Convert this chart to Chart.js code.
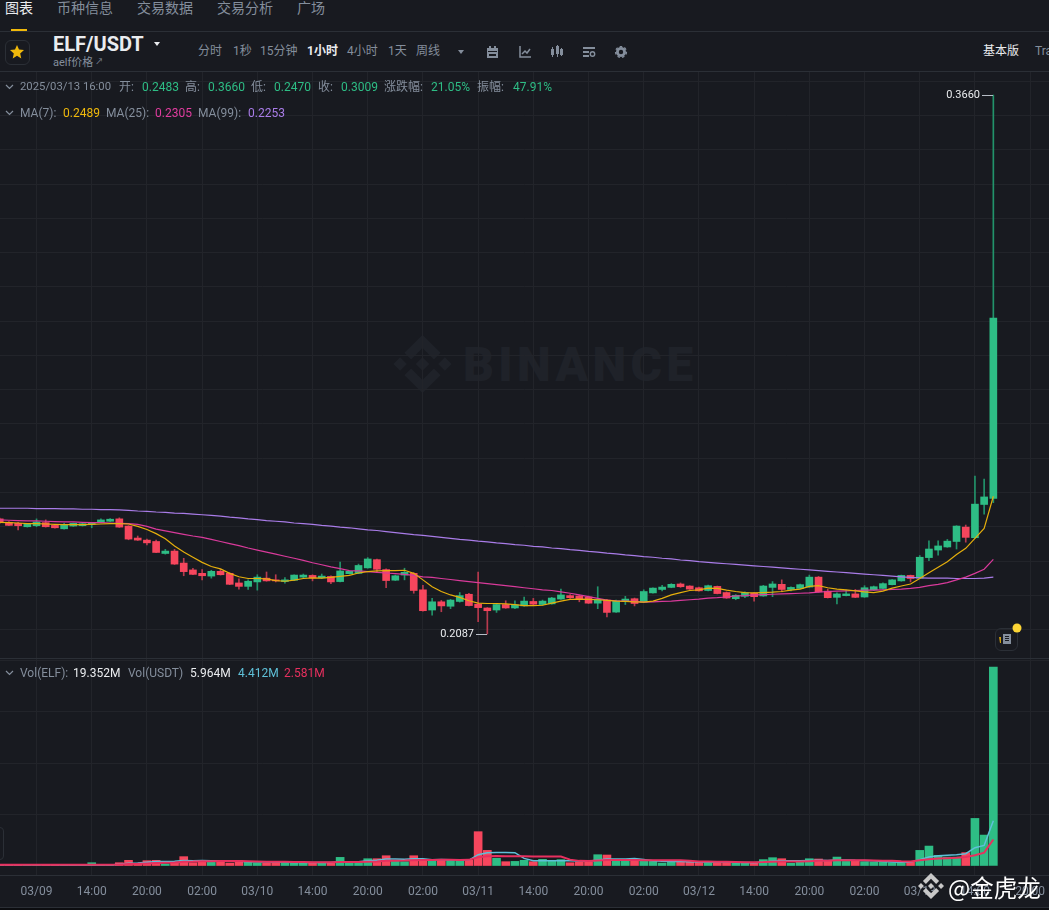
<!DOCTYPE html>
<html lang="zh">
<head>
<meta charset="utf-8">
<title>ELF/USDT</title>
<script src="https://cdn.jsdelivr.net/npm/chart.js@4/dist/chart.umd.min.js"></script>
<style>
    html, body { margin: 0; padding: 0; background: #181a20; }
    body { width: 1049px; height: 910px; position: relative; overflow: hidden; font-family: Roboto, "Noto Sans CJK SC", sans-serif; color: #848e9c; }
    .t { position: absolute; white-space: nowrap; line-height: 16px; font-size: 12px; }
    .tab { font-size: 14px; line-height: 16px; top: 0; }
    .hl { position: absolute; left: 0; width: 1049px; height: 1px; background: #2b2f36; }
    .green { color: #2ebd85; }
    svg { position: absolute; overflow: visible; }
    canvas { position: absolute; left: 0; }
</style>
</head>
<body>
<svg style="left:393px;top:335px" width="59" height="58" viewBox="0 0 126 126"><path fill="#1f2229" d="M38.2 53 63 28.2 87.8 53l14.4-14.4L63 0 23.8 38.6zM0 63l14.4-14.4L28.8 63 14.4 77.4zM38.2 73 63 97.8 87.8 73l14.4 14.4L63 126 23.8 87.4zM97.2 63l14.4-14.4L126 63l-14.4 14.4zM77.6 63 63 48.4 48.4 63 63 77.6z"/></svg>
<div class="t" style="left:463px;top:340px;font-size:48px;line-height:50px;font-weight:900;letter-spacing:4.3px;color:#1f2229">BINANCE</div>

<canvas id="price-chart" width="1049" height="586" style="top:72px"></canvas>
<canvas id="volume-chart" width="1049" height="248" style="top:659px"></canvas>

<div class="t tab" style="left:5px;color:#eaecef">图表</div>
<div class="t tab" style="left:57px">币种信息</div>
<div class="t tab" style="left:137px">交易数据</div>
<div class="t tab" style="left:217px">交易分析</div>
<div class="t tab" style="left:297px">广场</div>
<div style="position:absolute;left:11px;top:29px;width:16px;height:3px;background:#f0b90b"></div>
<div class="hl" style="top:31px"></div>
<div class="hl" style="top:71px"></div>
<div class="hl" style="top:658px"></div>
<div class="hl" style="top:875px"></div>
<div class="hl" style="top:907px"></div>
<div style="position:absolute;left:0;top:908px;width:1049px;height:2px;background:#0c0d10"></div>

<div style="position:absolute;left:5px;top:40px;width:23px;height:23px;border:1px solid #2b2f36;border-radius:6px"></div>
<svg style="left:10px;top:45px" width="14" height="14" viewBox="0 0 14 14"><path fill="#f0b90b" d="M7 0l2 4.6 5 .5-3.8 3.3 1.1 5L7 10.8 2.7 13.4l1.1-5L0 5.1l5-.5z"/></svg>
<div class="t" style="left:53px;top:33px;font-size:20px;line-height:22px;font-weight:700;color:#eaecef">ELF/USDT</div>
<svg style="left:154px;top:42px" width="6" height="4"><path fill="#eaecef" d="M0 0h6L3 4z"/></svg>
<div class="t" style="left:53px;top:54px;font-size:11px">aelf价格<span style="font-size:8px;vertical-align:2px"> ↗</span></div>
<div class="t" style="left:198px;top:43px">分时</div>
<div class="t" style="left:233px;top:43px">1秒</div>
<div class="t" style="left:260px;top:43px">15分钟</div>
<div class="t" style="left:307px;top:43px;color:#eaecef;font-weight:700">1小时</div>
<div class="t" style="left:347px;top:43px">4小时</div>
<div class="t" style="left:388px;top:43px">1天</div>
<div class="t" style="left:416px;top:43px">周线</div>
<svg style="left:458px;top:50px" width="6" height="4"><path fill="#848e9c" d="M0 0h6L3 4z"/></svg>
<svg style="left:487px;top:46px" width="11" height="12"><path fill="#848e9c" d="M2 0h2v2h3V0h2v2h2v10H0V2h2zM1 5v1h9V5zM2 8v2h7V8z"/></svg>
<svg style="left:519px;top:46px" width="12" height="12"><path fill="none" stroke="#848e9c" stroke-width="1.5" d="M1 0v11h11M3 8l3-3 2 2 3-4"/></svg>
<svg style="left:550px;top:45px" width="14" height="13"><path fill="#848e9c" d="M1 4h3v6H1zM2 2h1v10H2zM6 1h3v8H6zM7 0h1v12H7zM10 4h3v6h-3zM11 3h1v8h-1z"/></svg>
<svg style="left:583px;top:46px" width="12" height="12"><path fill="#848e9c" d="M0 1h12v2H0zM0 5h6v2H0zM0 9h6v2H0z"/><circle cx="9.5" cy="8" r="2.2" fill="none" stroke="#848e9c" stroke-width="1.4"/></svg>
<svg style="left:615px;top:46px" width="12" height="12"><circle cx="6" cy="6" r="3.6" fill="none" stroke="#848e9c" stroke-width="2.8"/><circle cx="6" cy="6" r="5.4" fill="none" stroke="#848e9c" stroke-width="1.4" stroke-dasharray="2.5 2.2"/></svg>
<div class="t" style="left:983px;top:43px;color:#eaecef">基本版</div>
<div class="t" style="left:1035px;top:43px">Tra</div>

<svg style="left:6px;top:85px" width="7" height="5"><path fill="none" stroke="#848e9c" stroke-width="1.2" d="M0 0l3.5 3.5L7 0"/></svg>
<div class="t" style="left:20px;top:79px;font-size:11.3px">2025/03/13 16:00</div>
<div class="t" style="left:119px;top:79px">开:</div><div class="t green" style="left:142px;top:79px">0.2483</div>
<div class="t" style="left:185px;top:79px">高:</div><div class="t green" style="left:208px;top:79px">0.3660</div>
<div class="t" style="left:251px;top:79px">低:</div><div class="t green" style="left:274px;top:79px">0.2470</div>
<div class="t" style="left:318px;top:79px">收:</div><div class="t green" style="left:341px;top:79px">0.3009</div>
<div class="t" style="left:384px;top:79px">涨跌幅:</div><div class="t green" style="left:431px;top:79px">21.05%</div>
<div class="t" style="left:477px;top:79px">振幅:</div><div class="t green" style="left:513px;top:79px">47.91%</div>

<svg style="left:6px;top:111px" width="7" height="5"><path fill="none" stroke="#848e9c" stroke-width="1.2" d="M0 0l3.5 3.5L7 0"/></svg>
<div class="t" style="left:20px;top:105px">MA(7):</div><div class="t" style="left:63px;top:105px;color:#f0b90b">0.2489</div>
<div class="t" style="left:106px;top:105px">MA(25):</div><div class="t" style="left:155px;top:105px;color:#e13c9f">0.2305</div>
<div class="t" style="left:198px;top:105px">MA(99):</div><div class="t" style="left:248px;top:105px;color:#a97ce8">0.2253</div>

<svg style="left:6px;top:671px" width="7" height="5"><path fill="none" stroke="#848e9c" stroke-width="1.2" d="M0 0l3.5 3.5L7 0"/></svg>
<div class="t" style="left:20px;top:665px">Vol(ELF):</div><div class="t" style="left:73px;top:665px;color:#eaecef">19.352M</div>
<div class="t" style="left:128px;top:665px">Vol(USDT)</div><div class="t" style="left:190px;top:665px;color:#eaecef">5.964M</div>
<div class="t" style="left:238px;top:665px;color:#5fc0d8">4.412M</div>
<div class="t" style="left:284px;top:665px;color:#e8305f">2.581M</div>

<div style="position:absolute;left:995px;top:628px;width:21px;height:21px;border:1px solid #2b2f36;border-radius:6px"></div>
<svg style="left:999px;top:633px" width="14" height="12"><path fill="#c99a10" d="M0 4h2v6H1z"/><path fill="#848e9c" d="M4 1h8v10H4z"/><path fill="#181a20" d="M6 3h4v1H6zM6 5h4v1H6zM6 7h4v1H6z"/></svg>
<svg style="left:1012px;top:623px" width="10" height="10"><circle cx="5" cy="5" r="4.5" fill="#fcd535"/></svg>
<div style="position:absolute;left:-6px;top:827px;width:8px;height:31px;border:1px solid #2b2f36;border-radius:4px"></div>

<svg style="left:918px;top:873px" width="26" height="26" viewBox="0 0 126 126"><path fill="#c8c8c8" d="M38.2 53 63 28.2 87.8 53l14.4-14.4L63 0 23.8 38.6zM0 63l14.4-14.4L28.8 63 14.4 77.4zM38.2 73 63 97.8 87.8 73l14.4 14.4L63 126 23.8 87.4zM97.2 63l14.4-14.4L126 63l-14.4 14.4zM77.6 63 63 48.4 48.4 63 63 77.6z"/></svg>
<div class="t" style="left:948px;top:873px;font-size:23.5px;line-height:28px;color:#ffffff;font-family:'Noto Sans CJK SC',sans-serif">@金虎龙</div>

<script>
// one value per hourly candle
const opens = [0.2423,0.2413,0.2410,0.2400,0.2403,0.2412,0.2404,0.2394,0.2402,0.2403,0.2407,0.2412,0.2416,0.2423,0.2402,0.2367,0.2361,0.2357,0.2322,0.2329,0.2294,0.2274,0.2264,0.2256,0.2270,0.2264,0.2236,0.2226,0.2239,0.2250,0.2245,0.2240,0.2244,0.2253,0.2258,0.2251,0.2255,0.2240,0.2263,0.2264,0.2280,0.2304,0.2275,0.2244,0.2259,0.2264,0.2216,0.2157,0.2181,0.2168,0.2182,0.2203,0.2174,0.2163,0.2157,0.2173,0.2163,0.2169,0.2182,0.2173,0.2175,0.2189,0.2199,0.2198,0.2195,0.2177,0.2186,0.2151,0.2183,0.2190,0.2180,0.2207,0.2217,0.2223,0.2233,0.2227,0.2222,0.2214,0.2226,0.2208,0.2190,0.2197,0.2206,0.2198,0.2223,0.2232,0.2217,0.2220,0.2224,0.2253,0.2212,0.2194,0.2199,0.2204,0.2195,0.2216,0.2220,0.2231,0.2242,0.2258,0.2250,0.2310,0.2332,0.2341,0.2357,0.2399,0.2368,0.2465,0.2483];
const highs = [0.2425,0.2415,0.2413,0.2408,0.2423,0.2420,0.2406,0.2410,0.2411,0.2410,0.2412,0.2423,0.2424,0.2426,0.2403,0.2373,0.2364,0.2361,0.2334,0.2334,0.2308,0.2279,0.2275,0.2273,0.2276,0.2266,0.2248,0.2245,0.2260,0.2268,0.2260,0.2252,0.2260,0.2262,0.2260,0.2262,0.2257,0.2297,0.2271,0.2291,0.2310,0.2306,0.2277,0.2259,0.2279,0.2266,0.2229,0.2191,0.2185,0.2188,0.2208,0.2206,0.2268,0.2164,0.2176,0.2184,0.2184,0.2195,0.2191,0.2186,0.2194,0.2218,0.2202,0.2200,0.2198,0.2225,0.2188,0.2186,0.2197,0.2192,0.2216,0.2222,0.2229,0.2234,0.2236,0.2228,0.2224,0.2230,0.2227,0.2210,0.2202,0.2210,0.2208,0.2229,0.2240,0.2245,0.2225,0.2233,0.2259,0.2255,0.2218,0.2207,0.2215,0.2217,0.2228,0.2227,0.2236,0.2246,0.2259,0.2259,0.2316,0.2359,0.2359,0.2363,0.2403,0.2405,0.2548,0.2539,0.3660];
const lows = [0.2410,0.2403,0.2391,0.2399,0.2400,0.2399,0.2396,0.2393,0.2401,0.2402,0.2397,0.2411,0.2415,0.2398,0.2362,0.2360,0.2347,0.2324,0.2320,0.2290,0.2257,0.2260,0.2245,0.2250,0.2259,0.2231,0.2218,0.2217,0.2215,0.2241,0.2239,0.2235,0.2243,0.2251,0.2242,0.2249,0.2234,0.2239,0.2262,0.2263,0.2279,0.2269,0.2222,0.2243,0.2245,0.2206,0.2154,0.2142,0.2152,0.2161,0.2180,0.2169,0.2123,0.2087,0.2150,0.2162,0.2161,0.2168,0.2171,0.2171,0.2174,0.2188,0.2191,0.2181,0.2176,0.2161,0.2137,0.2150,0.2173,0.2169,0.2179,0.2206,0.2213,0.2222,0.2223,0.2217,0.2212,0.2213,0.2204,0.2191,0.2187,0.2193,0.2183,0.2197,0.2196,0.2210,0.2213,0.2219,0.2223,0.2209,0.2192,0.2175,0.2198,0.2193,0.2194,0.2214,0.2218,0.2230,0.2241,0.2239,0.2249,0.2301,0.2317,0.2340,0.2335,0.2355,0.2367,0.2437,0.2470];
const closes = [0.2412,0.2404,0.2403,0.2407,0.2414,0.2400,0.2397,0.2407,0.2410,0.2409,0.2410,0.2420,0.2422,0.2399,0.2364,0.2361,0.2353,0.2325,0.2329,0.2291,0.2269,0.2261,0.2257,0.2270,0.2260,0.2232,0.2226,0.2241,0.2253,0.2242,0.2242,0.2245,0.2259,0.2259,0.2251,0.2256,0.2239,0.2271,0.2270,0.2287,0.2306,0.2276,0.2243,0.2257,0.2267,0.2214,0.2155,0.2181,0.2169,0.2186,0.2199,0.2170,0.2164,0.2155,0.2173,0.2163,0.2172,0.2183,0.2174,0.2183,0.2192,0.2201,0.2193,0.2189,0.2177,0.2188,0.2150,0.2184,0.2189,0.2176,0.2211,0.2221,0.2224,0.2232,0.2225,0.2218,0.2213,0.2228,0.2205,0.2192,0.2200,0.2208,0.2196,0.2227,0.2233,0.2217,0.2223,0.2231,0.2253,0.2210,0.2193,0.2204,0.2204,0.2194,0.2222,0.2225,0.2234,0.2245,0.2258,0.2249,0.2311,0.2335,0.2344,0.2358,0.2402,0.2369,0.2466,0.2487,0.3009];
const ma7 = [0.2413,0.2412,0.2411,0.2409,0.2409,0.2408,0.2407,0.2406,0.2406,0.2406,0.2407,0.2408,0.2409,0.2409,0.2408,0.2401,0.2392,0.2380,0.2365,0.2344,0.2326,0.2311,0.2296,0.2284,0.2277,0.2264,0.2254,0.2249,0.2249,0.2248,0.2243,0.2241,0.2244,0.2249,0.2251,0.2250,0.2252,0.2255,0.2258,0.2265,0.2269,0.2271,0.2272,0.2272,0.2273,0.2264,0.2245,0.2225,0.2211,0.2201,0.2194,0.2184,0.2177,0.2176,0.2176,0.2175,0.2173,0.2170,0.2170,0.2171,0.2177,0.2183,0.2188,0.2189,0.2188,0.2187,0.2185,0.2183,0.2182,0.2181,0.2180,0.2183,0.2191,0.2201,0.2208,0.2214,0.2216,0.2221,0.2220,0.2215,0.2211,0.2208,0.2207,0.2208,0.2209,0.2211,0.2215,0.2218,0.2226,0.2228,0.2222,0.2218,0.2216,0.2213,0.2210,0.2208,0.2212,0.2221,0.2227,0.2233,0.2249,0.2266,0.2282,0.2298,0.2319,0.2337,0.2366,0.2395,0.2489];
const ma25 = [0.2420,0.2419,0.2418,0.2417,0.2417,0.2416,0.2415,0.2414,0.2414,0.2413,0.2412,0.2412,0.2411,0.2410,0.2409,0.2407,0.2401,0.2393,0.2388,0.2383,0.2378,0.2373,0.2369,0.2363,0.2357,0.2351,0.2345,0.2338,0.2332,0.2326,0.2320,0.2314,0.2308,0.2302,0.2295,0.2289,0.2283,0.2278,0.2272,0.2271,0.2269,0.2267,0.2265,0.2263,0.2261,0.2258,0.2254,0.2252,0.2249,0.2246,0.2243,0.2240,0.2237,0.2234,0.2231,0.2228,0.2225,0.2222,0.2219,0.2216,0.2214,0.2210,0.2206,0.2201,0.2196,0.2191,0.2186,0.2184,0.2183,0.2182,0.2180,0.2181,0.2182,0.2183,0.2185,0.2187,0.2189,0.2192,0.2193,0.2195,0.2198,0.2199,0.2201,0.2202,0.2203,0.2204,0.2205,0.2206,0.2207,0.2209,0.2211,0.2212,0.2213,0.2214,0.2215,0.2215,0.2216,0.2217,0.2218,0.2220,0.2223,0.2228,0.2232,0.2237,0.2245,0.2253,0.2264,0.2276,0.2305];
const ma99 = [0.2454,0.2454,0.2454,0.2454,0.2453,0.2453,0.2453,0.2452,0.2452,0.2451,0.2451,0.2450,0.2450,0.2449,0.2448,0.2446,0.2445,0.2443,0.2442,0.2440,0.2439,0.2437,0.2435,0.2433,0.2431,0.2428,0.2426,0.2423,0.2421,0.2418,0.2416,0.2414,0.2411,0.2409,0.2407,0.2404,0.2402,0.2399,0.2397,0.2394,0.2391,0.2389,0.2386,0.2383,0.2380,0.2377,0.2375,0.2372,0.2369,0.2366,0.2363,0.2361,0.2358,0.2356,0.2353,0.2351,0.2348,0.2346,0.2343,0.2341,0.2338,0.2336,0.2333,0.2331,0.2328,0.2326,0.2323,0.2321,0.2318,0.2316,0.2313,0.2311,0.2308,0.2306,0.2303,0.2301,0.2298,0.2296,0.2294,0.2292,0.2290,0.2288,0.2286,0.2284,0.2282,0.2280,0.2278,0.2276,0.2274,0.2272,0.2270,0.2268,0.2266,0.2264,0.2262,0.2260,0.2258,0.2256,0.2254,0.2252,0.2251,0.2250,0.2250,0.2250,0.2249,0.2249,0.2249,0.2250,0.2253];
const volumes = [0.16,0.13,0.13,0.10,0.13,0.13,0.10,0.10,0.10,0.07,0.32,0.10,0.10,0.32,0.55,0.23,0.52,0.55,0.19,0.29,0.91,0.32,0.52,0.42,0.49,0.29,0.52,0.39,0.32,0.29,0.36,0.42,0.36,0.29,0.32,0.26,0.36,0.84,0.29,0.32,0.71,0.71,1.00,0.45,0.42,1.00,0.62,0.55,0.62,0.55,0.55,0.55,3.34,1.52,0.75,0.42,0.45,0.55,0.42,0.65,0.55,0.62,0.32,0.39,0.39,1.10,1.07,0.52,0.52,0.52,0.49,0.52,0.29,0.42,0.42,0.42,0.45,0.39,0.36,0.36,0.29,0.32,0.29,0.62,0.81,0.71,0.26,0.36,0.71,0.68,0.49,0.87,0.45,0.49,0.42,0.39,0.36,0.32,0.32,0.42,1.52,1.94,1.04,0.87,0.87,1.30,4.63,3.01,19.352];
const volMa5 = [0.13,0.13,0.13,0.13,0.13,0.13,0.12,0.11,0.11,0.10,0.11,0.11,0.11,0.16,0.26,0.29,0.37,0.44,0.45,0.46,0.54,0.51,0.53,0.50,0.52,0.47,0.46,0.42,0.42,0.38,0.38,0.36,0.35,0.33,0.34,0.33,0.33,0.42,0.42,0.42,0.50,0.55,0.67,0.67,0.66,0.71,0.70,0.60,0.64,0.60,0.58,0.58,1.10,1.28,1.32,1.32,1.30,0.74,0.52,0.50,0.52,0.52,0.51,0.48,0.46,0.58,0.68,0.68,0.68,0.72,0.63,0.51,0.47,0.45,0.43,0.41,0.40,0.42,0.40,0.38,0.34,0.34,0.32,0.38,0.46,0.50,0.50,0.50,0.54,0.56,0.54,0.59,0.58,0.55,0.54,0.52,0.43,0.40,0.37,0.38,0.62,0.88,1.00,1.05,1.10,1.20,1.78,2.00,4.412];
const volMa10 = [0.13,0.13,0.13,0.13,0.13,0.13,0.13,0.13,0.13,0.12,0.12,0.12,0.12,0.14,0.19,0.21,0.25,0.30,0.32,0.33,0.41,0.43,0.47,0.47,0.49,0.48,0.48,0.46,0.45,0.42,0.42,0.41,0.40,0.38,0.36,0.36,0.36,0.39,0.38,0.38,0.42,0.45,0.50,0.52,0.53,0.56,0.58,0.58,0.61,0.60,0.58,0.60,0.85,0.95,0.98,0.96,0.95,0.94,0.93,0.92,0.92,0.92,0.62,0.50,0.48,0.54,0.58,0.58,0.58,0.58,0.57,0.57,0.57,0.56,0.56,0.50,0.44,0.43,0.42,0.41,0.39,0.37,0.36,0.38,0.42,0.45,0.44,0.44,0.47,0.50,0.52,0.56,0.55,0.57,0.56,0.53,0.50,0.50,0.46,0.45,0.55,0.65,0.72,0.76,0.80,0.88,1.04,1.30,2.581];
const tickCandles = [4,10,16,22,28,34,40,46,52,58,64,70,76,82,88,94,100,106,112];
const tickLabels = ['03/09','14:00','20:00','02:00','03/10','14:00','20:00','02:00','03/11','14:00','20:00','02:00','03/12','14:00','20:00','02:00','03/13','14:00','20:00'];

const GREEN = '#2ebd85', RED = '#f6465d';
const GRID = '#22242a';
const upOrDown = opens.map((o, i) => closes[i] >= o ? GREEN : RED);
const wickColors = opens.map((o, i) => closes[i] >= o ? '#22936a' : '#b73a4e');
const points = arr => arr.map((v, i) => ({ x: i, y: v }));
const lineSet = (data, color, width, order) => ({
    type: 'line', data: points(data), borderColor: color, borderWidth: width,
    pointRadius: 0, tension: 0, fill: false, order
});

// same x range in both panes, in candle numbers
const xScale = showLabels => ({
    type: 'linear', min: 0.03, max: 114.05, offset: false,
    border: { display: false },
    grid: { color: GRID, drawTicks: false, offset: false },
    afterBuildTicks: s => { s.ticks = tickCandles.map(v => ({ value: v })); },
    afterFit: s => { s.height = showLabels ? 32 : 0; s.paddingLeft = 0; s.paddingRight = 0; },
    ticks: {
        display: showLabels, autoSkip: false, maxRotation: 0, color: '#848e9c', padding: 10,
        font: { family: 'Roboto', size: 12 },
        callback: (v, i) => tickLabels[i]
    }
});
const yScale = (min, max, step) => ({
    position: 'right', min, max, offset: false,
    border: { display: false },
    grid: { color: c => (c.tick && c.tick.value === 0 ? 'transparent' : GRID), drawTicks: false },
    ticks: { display: false, stepSize: step, includeBounds: false }
});

// the 0.3660 / 0.2087 tags on the extreme wicks
const extremeTags = {
    id: 'extremeTags',
    afterDatasetsDraw(chart) {
        const { ctx, scales } = chart;
        const hi = Math.max(...highs), lo = Math.min(...lows);
        const tags = [[highs.indexOf(hi), hi], [lows.indexOf(lo), lo]];
        ctx.save();
        ctx.font = '11px Roboto';
        ctx.textAlign = 'right';
        ctx.textBaseline = 'middle';
        tags.forEach(([i, v]) => {
            const x = Math.round(scales.x.getPixelForValue(i)), y = Math.round(scales.y.getPixelForValue(v)) + 0.5;
            ctx.strokeStyle = '#b7bdc6';
            ctx.beginPath(); ctx.moveTo(x - 11, y); ctx.lineTo(x, y); ctx.stroke();
            ctx.fillStyle = '#eaecef';
            ctx.fillText(v.toFixed(4), x - 13, y);
        });
        ctx.restore();
    }
};

Chart.defaults.animation = false;

new Chart(document.getElementById('price-chart'), {
    type: 'bar',
    data: {
        datasets: [
            lineSet(ma7, '#e5ae0c', 1.2, 0),
            lineSet(ma25, '#d93a9b', 1.2, 1),
            lineSet(ma99, '#a97ce8', 1.2, 1),
            { data: opens.map((o, i) => ({ x: i, y: [o, closes[i]] })), backgroundColor: upOrDown, barThickness: 7, grouped: false, order: 2 },
            { data: lows.map((l, i) => ({ x: i, y: [l, highs[i]] })), backgroundColor: wickColors, barThickness: 1, grouped: false, order: 3 }
        ]
    },
    options: {
        responsive: false, maintainAspectRatio: false,
        layout: { padding: 0, autoPadding: false },
        plugins: { legend: { display: false }, tooltip: { enabled: false } },
        scales: { x: xScale(false), y: yScale(0.2017, 0.3727, 0.01) }
    },
    plugins: [extremeTags]
});

new Chart(document.getElementById('volume-chart'), {
    type: 'bar',
    data: {
        datasets: [
            lineSet(volMa10, '#e8305f', 2, 0),
            lineSet(volMa5, '#5fc0d8', 1.5, 1),
            { data: points(volumes), backgroundColor: upOrDown, barThickness: 8, grouped: false, order: 2 }
        ]
    },
    options: {
        responsive: false, maintainAspectRatio: false,
        layout: { padding: 0, autoPadding: false },
        plugins: { legend: { display: false }, tooltip: { enabled: false } },
        scales: { x: xScale(true), y: yScale(-0.875, 20.14, 5) }
    }
});
</script>
</body>
</html>
